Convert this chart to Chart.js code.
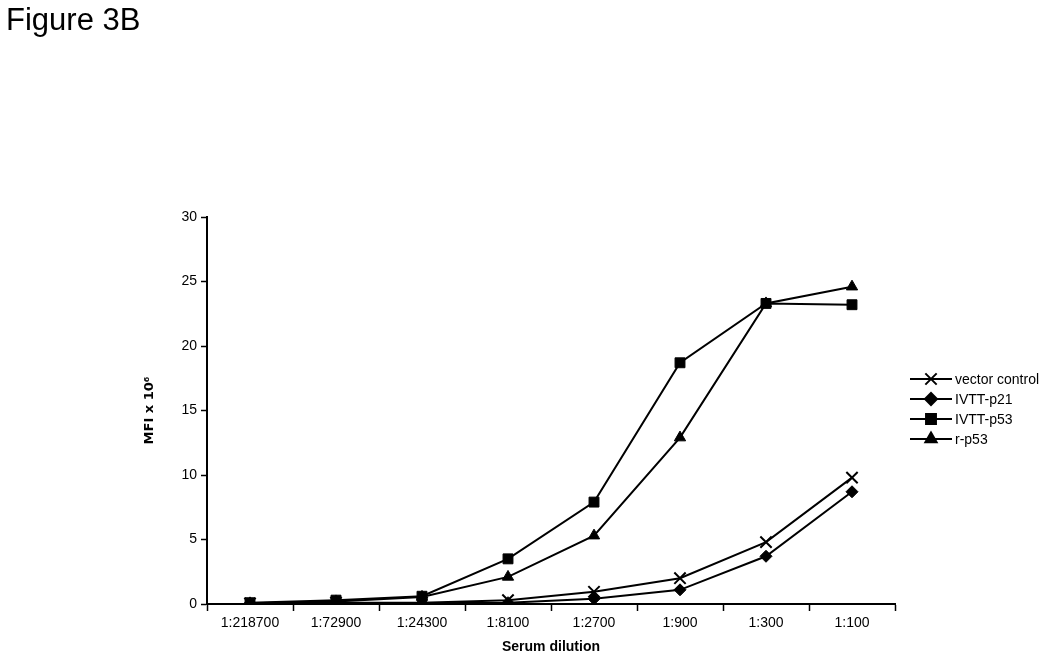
<!DOCTYPE html>
<html>
<head>
<meta charset="utf-8">
<style>
  html, body { margin: 0; padding: 0; background: #fff; }
  #wrap { width: 1050px; height: 660px; position: relative; }
</style>
<script src="https://cdn.jsdelivr.net/npm/chart.js@4.4.1/dist/chart.umd.min.js"></script>
</head>
<body>
<div id="wrap"><canvas id="chart" width="1050" height="660"></canvas></div>
<script>
// serum dilution series, MFI values (x 10^6)
const dilutions = ['1:218700', '1:72900', '1:24300', '1:8100', '1:2700', '1:900', '1:300', '1:100'];
const vectorControl = [0.05, 0.1, 0.1, 0.3, 0.95, 2.0, 4.8, 9.8];
const ivttP21 = [0.05, 0.05, 0.05, 0.1, 0.4, 1.1, 3.7, 8.7];
const ivttP53 = [0.1, 0.3, 0.6, 3.5, 7.9, 18.7, 23.3, 23.2];
const rP53 = [0.05, 0.2, 0.55, 2.1, 5.3, 12.9, 23.3, 24.6];
const yTicks = [0, 5, 10, 15, 20, 25, 30];

const AXIS_FONT = "'Liberation Sans', Arial, sans-serif";

function series(label, data, style, radius) {
  return {
    label: label,
    data: data,
    borderColor: '#000',
    backgroundColor: '#000',
    borderWidth: 2,
    tension: 0,
    pointStyle: style,
    pointRadius: radius,
    pointHoverRadius: radius,
    pointBorderWidth: style === 'crossRot' ? 2 : 1,
    pointBorderColor: '#000',
    pointBackgroundColor: '#000',
  };
}

// figure label + line/marker legend like the original
const decorations = {
  id: 'decorations',
  afterDraw(chart) {
    const ctx = chart.ctx;
    ctx.save();
    ctx.fillStyle = '#000';
    ctx.font = '31px ' + AXIS_FONT;
    ctx.textBaseline = 'alphabetic';
    ctx.textAlign = 'left';
    ctx.fillText('Figure 3B', 6, 30);

    const rowY = [379, 399, 419, 439];
    chart.data.datasets.forEach((ds, i) => {
      const y = rowY[i];
      ctx.strokeStyle = '#000';
      ctx.lineWidth = 2;
      ctx.beginPath();
      ctx.moveTo(910, y);
      ctx.lineTo(952, y);
      ctx.stroke();
      Chart.helpers.drawPoint(ctx, {
        pointStyle: ds.pointStyle,
        radius: ds.pointRadius,
        borderWidth: ds.pointBorderWidth,
        rotation: 0,
      }, 931, y);
      ctx.fillStyle = '#000';
      ctx.font = '14px ' + AXIS_FONT;
      ctx.textBaseline = 'middle';
      ctx.fillText(ds.label, 955, y + 1);
    });
    ctx.restore();
  },
};

new Chart(document.getElementById('chart'), {
  type: 'line',
  data: {
    labels: dilutions,
    datasets: [
      series('vector control', vectorControl, 'crossRot', 8),
      series('IVTT-p21', ivttP21, 'rectRot', 6),
      series('IVTT-p53', ivttP53, 'rect', 7),
      series('r-p53', rP53, 'triangle', 6.5),
    ],
  },
  options: {
    responsive: false,
    animation: false,
    layout: { padding: { left: 137, right: 155, top: 217, bottom: 4 } },
    plugins: {
      legend: { display: false },
      title: { display: false },
      tooltip: { enabled: false },
    },
    scales: {
      x: {
        type: 'category',
        offset: true,
        afterFit: (s) => { s.height = 52; },
        grid: { offset: true, drawOnChartArea: false, tickLength: 7, tickColor: '#000', tickWidth: 1.5 },
        border: { color: '#000', width: 2 },
        ticks: { color: '#000', font: { family: AXIS_FONT, size: 14 }, padding: 4, maxRotation: 0 },
        title: {
          display: true,
          text: 'Serum dilution',
          color: '#000',
          font: { family: AXIS_FONT, size: 14, weight: 'bold' },
          padding: { top: 0, bottom: 0 },
        },
      },
      y: {
        min: 0,
        max: 30,
        afterFit: (s) => { s.width = 70; },
        afterBuildTicks: (s) => { s.ticks = yTicks.map((v) => ({ value: v })); },
        grid: { drawOnChartArea: false, tickLength: 6, tickColor: '#000', tickWidth: 1.5 },
        border: { color: '#000', width: 2 },
        ticks: { color: '#000', font: { family: AXIS_FONT, size: 14 }, padding: 4 },
        title: {
          display: true,
          text: 'MFI x 10⁶',
          color: '#000',
          font: { family: "'DejaVu Sans', Verdana, sans-serif", size: 13, weight: 'bold' },
          padding: { top: 5, bottom: 0 },
        },
      },
    },
  },
  plugins: [decorations],
});
</script>
</body>
</html>
